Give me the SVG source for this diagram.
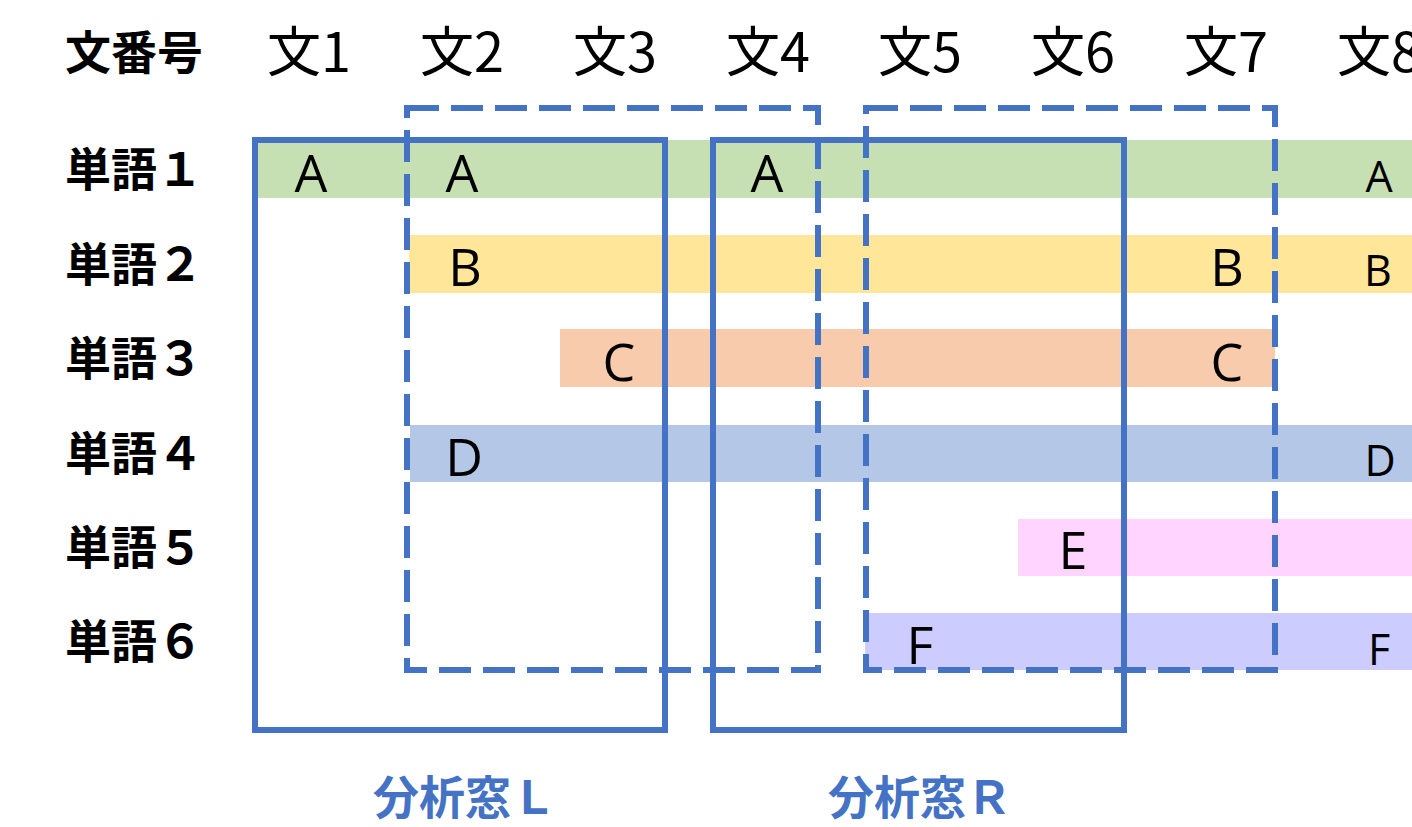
<svg xmlns="http://www.w3.org/2000/svg" width="1412" height="827" viewBox="0 0 1412 827">
<style>
.hdr{font-family:"Noto Sans CJK JP","Noto Sans",sans-serif;font-size:54px;fill:#000;text-anchor:middle}
.lbl{font-family:"Noto Sans CJK JP","Noto Sans",sans-serif;font-size:46px;font-weight:bold;fill:#000}
.let{font-family:"Open Sans","Noto Sans",sans-serif;font-size:52px;fill:#000;text-anchor:middle}
.sm{font-family:"Open Sans","Noto Sans",sans-serif;font-size:43px;fill:#000;text-anchor:middle}
.win{font-family:"Noto Sans CJK JP","Noto Sans",sans-serif;font-size:46px;font-weight:bold;fill:#4472C4}
.solid{fill:none;stroke:#4472C4;stroke-width:6}
.dash{fill:none;stroke:#4472C4;stroke-width:6;stroke-dasharray:32 12}
</style>
<rect width="1412" height="827" fill="#fff"/>
<g id="header">
<text class="lbl" x="65" y="69">文番号</text>
<text class="hdr" x="309" y="72">文1</text>
<text class="hdr" x="462" y="72">文2</text>
<text class="hdr" x="615" y="72">文3</text>
<text class="hdr" x="768" y="72">文4</text>
<text class="hdr" x="920" y="72">文5</text>
<text class="hdr" x="1073" y="72">文6</text>
<text class="hdr" x="1226" y="72">文7</text>
<text class="hdr" x="1379" y="72">文8</text>
</g>
<g id="rowlabels">
<text class="lbl" x="65" y="186">単語１</text>
<text class="lbl" x="65" y="281">単語２</text>
<text class="lbl" x="65" y="375">単語３</text>
<text class="lbl" x="65" y="470">単語４</text>
<text class="lbl" x="65" y="564">単語５</text>
<text class="lbl" x="65" y="658">単語６</text>
</g>
<g id="word1">
<rect x="255" y="140" width="1157" height="58" fill="#C6E0B4"/>
<text class="let" x="311" y="192">A</text>
<text class="let" x="462" y="192">A</text>
<text class="let" x="767" y="192">A</text>
<text class="sm" x="1379" y="192">A</text>
</g>
<g id="word2">
<rect x="409" y="235" width="1003" height="58" fill="#FFE699"/>
<text class="let" x="465" y="286">B</text>
<text class="let" x="1227" y="286">B</text>
<text class="sm" x="1378" y="286">B</text>
</g>
<g id="word3">
<rect x="560" y="329" width="715" height="58" fill="#F8CBAD"/>
<text class="let" x="619" y="381">C</text>
<text class="let" x="1227" y="381">C</text>
</g>
<g id="word4">
<rect x="410" y="425" width="1002" height="57" fill="#B4C7E7"/>
<text class="let" x="464" y="476">D</text>
<text class="sm" x="1380" y="476">D</text>
</g>
<g id="word5">
<rect x="1018" y="519" width="394" height="57" fill="#FFD5FF"/>
<text class="let" x="1073" y="569">E</text>
</g>
<g id="word6">
<rect x="865" y="613" width="547" height="57" fill="#CCCCFF"/>
<text class="let" x="920" y="664">F</text>
<text class="sm" x="1379" y="665">F</text>
</g>
<g id="windowL">
<rect class="solid" x="255" y="140" width="410" height="590"/>
<rect class="dash" x="407" y="108" width="411" height="562"/>
<text class="win" x="373" y="814">分析窓Ｌ</text>
</g>
<g id="windowR">
<rect class="solid" x="713" y="140" width="411" height="590"/>
<rect class="dash" x="866" y="108" width="409" height="562"/>
<text class="win" x="828" y="814">分析窓Ｒ</text>
</g>
</svg>
